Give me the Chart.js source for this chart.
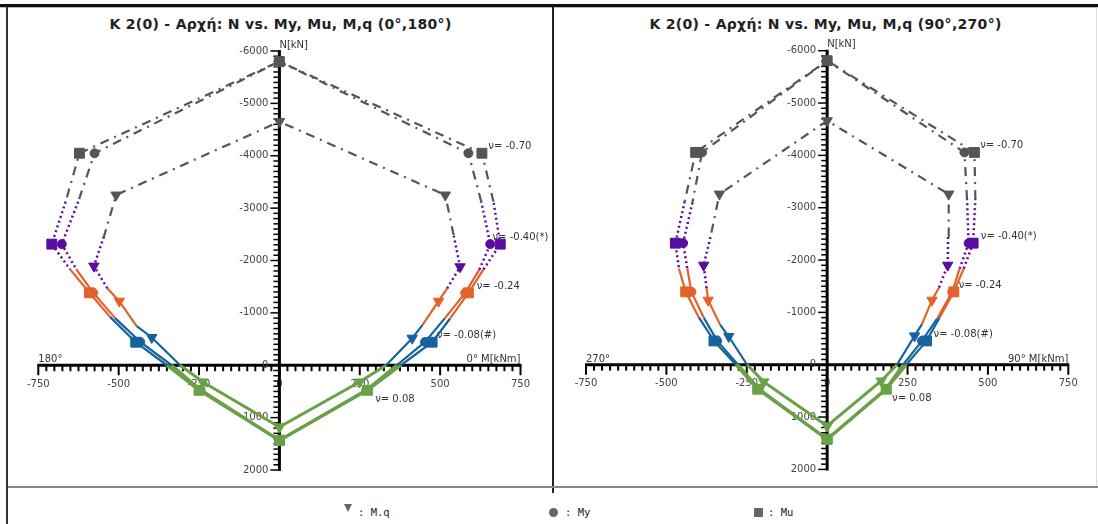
<!DOCTYPE html>
<html>
<head>
<meta charset="utf-8">
<script src="https://cdn.jsdelivr.net/npm/chart.js@4.4.0/dist/chart.umd.min.js"></script>
<style>
  body { margin: 0; width: 1098px; height: 524px; overflow: hidden; position: relative; background: #fff; font-family: "DejaVu Sans", sans-serif; }
  .line { position: absolute; }
  .title { position: absolute; top: 16px; width: 545px; text-align: center; font-weight: bold; font-size: 14px; letter-spacing: 0.3px; color: #222; white-space: nowrap; }
  canvas { position: absolute; top: 0; }
  .lg { position: absolute; font-family: "DejaVu Sans Mono", monospace; font-size: 10.5px; color: #222; top: 506px; }
  .mk { position: absolute; }
</style>
</head>
<body>
<div class="line" style="left:0;top:4px;width:1098px;height:3px;background:#111"></div>
<div class="line" style="left:0;top:7px;width:1098px;height:1px;background:#bbb"></div>
<div class="line" style="left:6px;top:7px;width:2px;height:517px;background:#333"></div>
<div class="line" style="left:552px;top:7px;width:2px;height:486px;background:#222"></div>
<div class="line" style="left:1096px;top:7px;width:1px;height:480px;background:#ddd"></div>
<div class="line" style="left:8px;top:486px;width:1090px;height:2px;background:#888"></div>

<div class="title" style="left:8px">K 2(0) - Αρχή: N vs. My, Mu, M,q (0°,180°)</div>
<div class="title" style="left:553px">K 2(0) - Αρχή: N vs. My, Mu, M,q (90°,270°)</div>

<canvas id="chart0" width="553" height="487" style="left:0"></canvas>
<canvas id="chart90" width="545" height="487" style="left:553px"></canvas>

<div class="mk" style="left:344px;top:504px;width:0;height:0;border-left:4px solid transparent;border-right:4px solid transparent;border-top:8px solid #666"></div>
<div class="lg" style="left:358px">: M.q</div>
<div class="mk" style="left:549px;top:508px;width:9px;height:9px;border-radius:50%;background:#666"></div>
<div class="lg" style="left:565px">: My</div>
<div class="mk" style="left:754px;top:508px;width:9px;height:9px;background:#666"></div>
<div class="lg" style="left:768px">: Mu</div>

<script>
// axis ticks
const xMajor = [-750, -500, -250, 0, 250, 500, 750];
const yMajor = [-6000, -5000, -4000, -3000, -2000, -1000, 0, 1000, 2000];
const xMinorStep = 25;
const yMinorStep = 100;

// point order along each curve: bottom, right side upwards (0.08, -0.08, -0.24, -0.40, -0.70), top,
// left side downwards, bottom again. '' = place where the line changes colour (no marker)
const bands = ['g', 'g', '', 'b', '', 'o', '', 'p', '', 'd', 'd', 'd', '', 'p', '', 'o', '', 'b', '', 'g', 'g'];

// (0°,180°)
const mu0M = [0, 274, 378, 475, 531, 588, 635, 687, 666, 630, 0, -622, -665, -708, -651, -591, -527, -447, -350, -250, 0];
const mu0N = [1434, 478, 0, -440, -893, -1383, -1830, -2313, -3122, -4048, -5799, -4048, -3122, -2313, -1830, -1383, -924, -440, 0, 478, 1434];
const my0M = [0, 270, 365, 453, 515, 578, 622, 656, 628, 588, 0, -575, -626, -677, -632, -579, -511, -433, -335, -245, 0];
const my0N = [1434, 474, 0, -446, -900, -1383, -1825, -2313, -3122, -4048, -5799, -4048, -3122, -2313, -1835, -1383, -900, -446, 0, 470, 1434];
const mq0M = [0, 249, 332, 413, 445, 495, 522, 562, 542, 516, 0, -508, -546, -577, -535, -498, -444, -397, -309, -238, 0];
const mq0N = [1180, 319, 0, -516, -765, -1223, -1466, -1880, -2486, -3250, -4652, -3250, -2453, -1893, -1466, -1223, -746, -530, 0, 319, 1180];

// (90°,270°)
const mu90M = [0, 184, 246, 309, 350, 394, 425, 454, 461, 458, 0, -409, -443, -472, -461, -440, -399, -352, -284, -216, 0];
const mu90N = [1424, 468, 0, -455, -903, -1392, -1839, -2323, -3164, -4057, -5809, -4057, -3120, -2323, -1839, -1392, -903, -455, 0, 468, 1424];
const my90M = [0, 182, 236, 295, 342, 389, 412, 440, 435, 427, 0, -389, -419, -448, -435, -422, -384, -342, -277, -212, 0];
const my90N = [1424, 466, 0, -455, -880, -1392, -1835, -2323, -3164, -4057, -5809, -4057, -3100, -2323, -1839, -1392, -903, -455, 0, 465, 1424];
const mq90M = [0, 168, 217, 272, 295, 326, 348, 375, 376, 378, 0, -335, -363, -384, -375, -370, -332, -306, -249, -197, 0];
const mq90N = [1170, 310, 0, -551, -775, -1233, -1476, -1902, -2463, -3260, -4662, -3260, -2438, -1902, -1463, -1233, -755, -539, 0, 328, 1170];

// ν labels
const nuText = ['ν= -0.70', 'ν= -0.40(*)', 'ν= -0.24', 'ν= -0.08(#)', 'ν= 0.08'];
const nuLbl0M = [650, 663, 614, 490, 298];
const nuLbl0N = [-4174, -2442, -1510, -574, 650];
const nuLbl90M = [476, 478, 409, 331, 202];
const nuLbl90N = [-4184, -2451, -1520, -583, 640];

const bandColor = { g: '#6aa046', b: '#15639e', o: '#e2622a', p: '#5a0ca0', d: '#555555' };
const bandDash = { g: [], b: [], o: [], p: [2, 3], d: [9, 6, 2, 6] };
const bandWidth = { g: 3, b: 2.2, o: 2.2, p: 2.5, d: 2.2 };

function segBand(i) {
    return bands[i] || bands[i + 1];
}

function line(ctx, x1, y1, x2, y2) {
    ctx.beginPath();
    ctx.moveTo(x1, y1);
    ctx.lineTo(x2, y2);
    ctx.stroke();
}

const crossAxes = {
    id: 'crossAxes',
    beforeDatasetsDraw(chart, args, opts) {
        const ctx = chart.ctx;
        const xs = chart.scales.x, ys = chart.scales.y;
        const x0 = xs.getPixelForValue(0), y0 = ys.getPixelForValue(0);
        ctx.save();
        ctx.strokeStyle = '#000';
        ctx.fillStyle = '#444';
        ctx.font = '10px "DejaVu Sans"';

        // x axis
        ctx.lineWidth = 2;
        for (let v = xMajor[0]; v <= xMajor[xMajor.length - 1]; v += xMinorStep) {
            const px = xs.getPixelForValue(v);
            line(ctx, px, y0, px, y0 + (xMajor.includes(v) ? 10 : 6));
        }
        ctx.lineWidth = 3;
        line(ctx, xs.getPixelForValue(xMajor[0]) - 1, y0, xs.getPixelForValue(xMajor[xMajor.length - 1]) + 1, y0);
        ctx.textAlign = 'center';
        ctx.textBaseline = 'middle';
        xMajor.forEach(v => ctx.fillText(String(v), xs.getPixelForValue(v), y0 + 19));

        // y axis
        ctx.lineWidth = 1.5;
        for (let v = yMajor[0]; v <= yMajor[yMajor.length - 1]; v += yMinorStep) {
            const py = ys.getPixelForValue(v);
            line(ctx, x0 - (yMajor.includes(v) ? 9 : 6), py, x0, py);
        }
        ctx.lineWidth = 3;
        line(ctx, x0, ys.getPixelForValue(yMajor[0]) - 1, x0, ys.getPixelForValue(yMajor[yMajor.length - 1]) + 1);
        ctx.textAlign = 'right';
        yMajor.forEach(v => ctx.fillText(String(v), x0 - 11, ys.getPixelForValue(v)));

        // axis names
        ctx.fillStyle = '#333';
        ctx.textAlign = 'left';
        ctx.fillText('N[kN]', x0, ys.getPixelForValue(yMajor[0]) - 6);
        ctx.textBaseline = 'alphabetic';
        ctx.fillText(opts.leftName, xs.getPixelForValue(xMajor[0]), y0 - 3);
        ctx.textAlign = 'right';
        ctx.fillText(opts.rightName, xs.getPixelForValue(xMajor[xMajor.length - 1]), y0 - 3);
        ctx.restore();
    },
    afterDatasetsDraw(chart, args, opts) {
        const ctx = chart.ctx;
        const xs = chart.scales.x, ys = chart.scales.y;
        ctx.save();
        ctx.fillStyle = '#333';
        ctx.font = '10px "DejaVu Sans"';
        ctx.textAlign = 'left';
        ctx.textBaseline = 'middle';
        nuText.forEach((t, i) => {
            ctx.fillText(t, xs.getPixelForValue(opts.lblM[i]), ys.getPixelForValue(opts.lblN[i]));
        });
        ctx.restore();
    }
};

function curveDataset(m, n, style, radius, rot) {
    return {
        data: m.map((v, i) => ({ x: v, y: n[i] })),
        showLine: true,
        tension: 0,
        clip: false,
        pointStyle: style,
        pointRotation: rot,
        pointRadius: bands.map(b => b ? radius : 0),
        pointHoverRadius: bands.map(b => b ? radius : 0),
        pointBackgroundColor: bands.map(b => bandColor[b] || 'rgba(0,0,0,0)'),
        pointBorderColor: bands.map(b => bandColor[b] || 'rgba(0,0,0,0)'),
        pointBorderWidth: 1,
        borderColor: '#555',
        borderWidth: 2.2,
        segment: {
            borderColor: ctx => bandColor[segBand(ctx.p0DataIndex)],
            borderDash: ctx => bandDash[segBand(ctx.p0DataIndex)],
            borderWidth: ctx => bandWidth[segBand(ctx.p0DataIndex)]
        }
    };
}

function makeChart(id, curves, names, lblM, lblN, pad) {
    return new Chart(document.getElementById(id), {
        type: 'scatter',
        data: {
            datasets: [
                curveDataset(curves.muM, curves.muN, 'rect', 7, 0),
                curveDataset(curves.myM, curves.myN, 'circle', 4.5, 0),
                curveDataset(curves.mqM, curves.mqN, 'triangle', 6, 180)
            ]
        },
        options: {
            responsive: false,
            animation: false,
            devicePixelRatio: 1,
            layout: { padding: pad },
            scales: {
                x: { type: 'linear', min: -750, max: 750, display: false },
                y: { type: 'linear', min: -6000, max: 2000, reverse: true, display: false }
            },
            plugins: {
                legend: { display: false },
                tooltip: { enabled: false },
                crossAxes: { leftName: names[0], rightName: names[1], lblM: lblM, lblN: lblN }
            }
        },
        plugins: [crossAxes]
    });
}

makeChart('chart0',
    { muM: mu0M, muN: mu0N, myM: my0M, myN: my0N, mqM: mq0M, mqN: mq0N },
    ['180°', '0° M[kNm]'], nuLbl0M, nuLbl0N,
    { left: 38.3, right: 32.5, top: 51, bottom: 17 });

makeChart('chart90',
    { muM: mu90M, muN: mu90N, myM: my90M, myN: my90N, mqM: mq90M, mqN: mq90N },
    ['270°', '90° M[kNm]'], nuLbl90M, nuLbl90N,
    { left: 33, right: 29.7, top: 50.7, bottom: 17.6 });
</script>
</body>
</html>
